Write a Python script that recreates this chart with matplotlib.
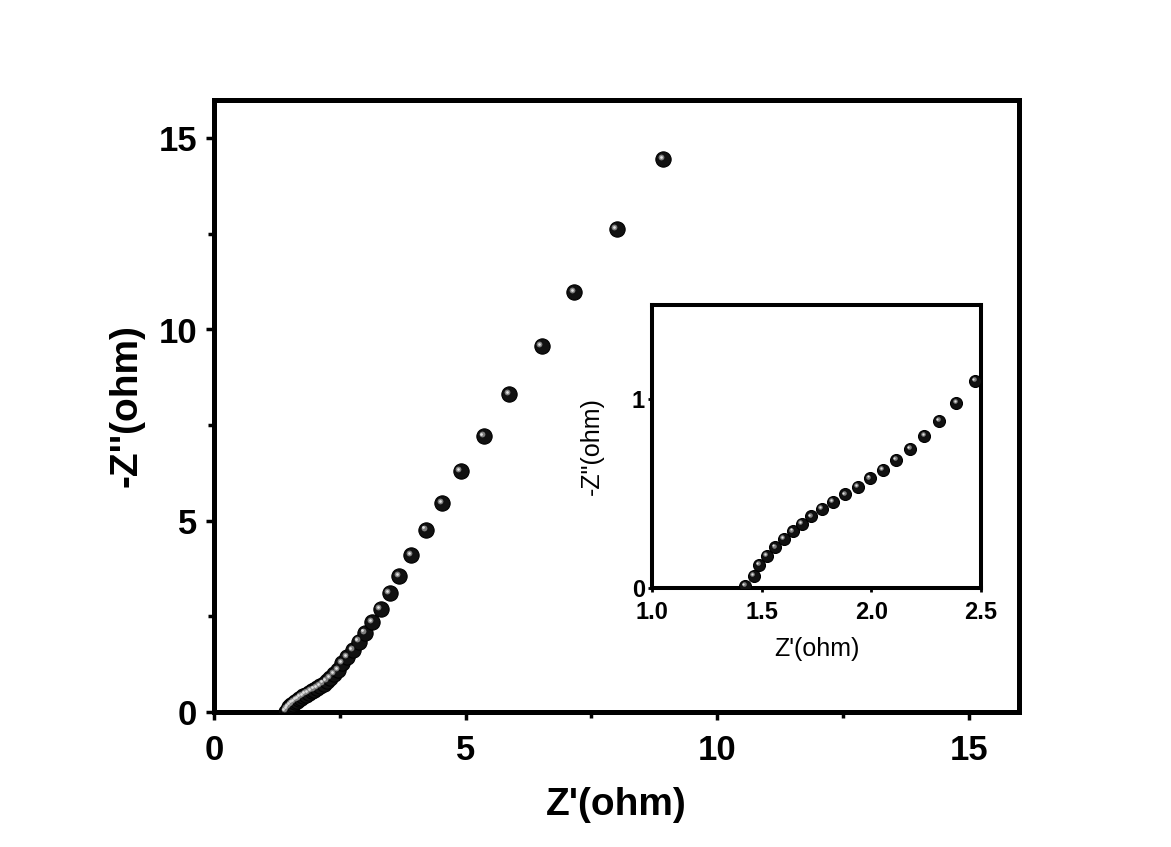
import matplotlib
matplotlib.use("Agg")
import matplotlib.pyplot as plt
from matplotlib.transforms import offset_copy
from matplotlib.ticker import MultipleLocator

plt.rcParams['font.family'] = ['Liberation Sans', 'DejaVu Sans']

z_real = [1.425, 1.463, 1.489, 1.524, 1.562, 1.600, 1.643, 1.684, 1.726, 1.775,
          1.825, 1.881, 1.938, 1.992, 2.053, 2.114, 2.178, 2.242, 2.310, 2.388,
          2.474, 2.55, 2.65, 2.76, 2.88, 3.00, 3.15, 3.31, 3.49, 3.68,
          3.92, 4.21, 4.54, 4.90, 5.36, 5.87, 6.51, 7.16, 8.00, 8.93]
z_imag = [0.010, 0.064, 0.122, 0.172, 0.216, 0.259, 0.300, 0.339, 0.379, 0.418,
          0.457, 0.496, 0.536, 0.582, 0.626, 0.679, 0.738, 0.805, 0.885, 0.982,
          1.097, 1.27, 1.43, 1.62, 1.84, 2.07, 2.34, 2.69, 3.10, 3.55,
          4.10, 4.76, 5.46, 6.30, 7.21, 8.31, 9.56, 10.97, 12.62, 14.45]

main_xticks = [0, 5, 10, 15]
main_yticks = [0, 5, 10, 15]
inset_xticks = [1.0, 1.5, 2.0, 2.5]
inset_xticklabels = ['1.0', '1.5', '2.0', '2.5']
inset_yticks = [0, 1]

W, H = 1171, 847
fig = plt.figure(figsize=(W / 100, H / 100), dpi=100)


def spheres(ax, x, y, ms):
    ax.plot(x, y, 'o', ms=ms, mfc='#111111', mec='#000000', mew=0.8, zorder=3)
    tr = offset_copy(ax.transData, fig=fig, x=-ms * 0.14, y=ms * 0.14, units='points')
    ax.plot(x, y, 'o', ms=ms * 0.38, mfc='#8a8a8a', mec='none', transform=tr, zorder=4, alpha=0.9)
    tr2 = offset_copy(ax.transData, fig=fig, x=-ms * 0.16, y=ms * 0.16, units='points')
    ax.plot(x, y, 'o', ms=ms * 0.18, mfc='#e0e0e0', mec='none', transform=tr2, zorder=5)


# main axes
ax = fig.add_axes([214 / W, 1 - 712 / H, (1019 - 214) / W, (712 - 100) / H])
spheres(ax, z_real, z_imag, 11)
ax.set_xlim(0, 16)
ax.set_ylim(0, 16)
ax.set_xticks(main_xticks)
ax.set_yticks(main_yticks)
ax.xaxis.set_minor_locator(MultipleLocator(2.5))
ax.yaxis.set_minor_locator(MultipleLocator(2.5))
for s in ax.spines.values():
    s.set_linewidth(3.6)
ax.tick_params(which='major', direction='out', length=6, width=2.5, labelsize=25)
ax.tick_params(axis='x', which='major', pad=10)
ax.tick_params(axis='y', which='major', pad=6)
ax.tick_params(which='minor', direction='out', length=4, width=2.5)
ax.tick_params(top=False, right=False, which='both')
for lab in ax.get_xticklabels() + ax.get_yticklabels():
    lab.set_fontweight('bold')
ax.set_xlabel("Z'(ohm)", fontsize=28, fontweight='bold', labelpad=14)
ax.set_ylabel("-Z''(ohm)", fontsize=28, fontweight='bold', labelpad=10)

# inset
ins = fig.add_axes([652 / W, 1 - 588 / H, (981 - 652) / W, (588 - 305) / H])
spheres(ins, z_real, z_imag, 8.6)
ins.set_xlim(1.0, 2.5)
ins.set_ylim(0, 1.5)
ins.set_xticks(inset_xticks)
ins.set_yticks(inset_yticks)
ins.set_xticklabels(inset_xticklabels)
for s in ins.spines.values():
    s.set_linewidth(2.9)
ins.tick_params(which='major', direction='out', length=3, width=2, labelsize=17)
ins.tick_params(axis='x', pad=6)
ins.tick_params(axis='y', pad=2)
for lab in ins.get_xticklabels() + ins.get_yticklabels():
    lab.set_fontweight('bold')
ins.set_xlabel("Z'(ohm)", fontsize=18, labelpad=10)
ins.set_ylabel('-Z"(ohm)', fontsize=18, labelpad=20)

fig.savefig('out.png', dpi=100, facecolor='white')
